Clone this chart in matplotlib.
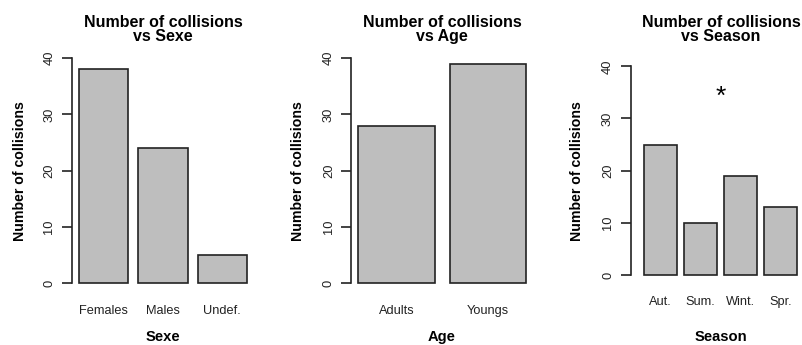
import matplotlib
matplotlib.use("Agg")
import matplotlib.pyplot as plt
import matplotlib.transforms as mtransforms

# Collision counts by grouping variable
sexe_labels = ["Females", "Males", "Undef."]
sexe_counts = [38, 24, 5]

age_labels = ["Adults", "Youngs"]
age_counts = [28, 39]

season_labels = ["Aut.", "Sum.", "Wint.", "Spr."]
season_counts = [25, 10, 19, 13]

# significance marker on the season panel
star_x, star_y = 2.5, 35

W, H = 803, 345
DPI = 100
plt.rcParams["font.family"] = ["Liberation Sans", "DejaVu Sans"]

fig = plt.figure(figsize=(W / DPI, H / DPI), dpi=DPI)
fig.patch.set_facecolor("white")

BAR_FILL = "#bebebe"
EDGE = "#222222"


def px_axes(left, right, top, bottom):
    return fig.add_axes([left / W, 1 - bottom / H, (right - left) / W, (bottom - top) / H])


def bar_centers(n):
    # R barplot layout: width 1, space 0.2
    return [0.2 + 0.5 + i * 1.2 for i in range(n)]


def draw_panel(ax, labels, counts, xlim, ylab_x, title_cx, name):
    xs = bar_centers(len(counts))
    ax.bar(xs, counts, width=1.0, color=BAR_FILL, edgecolor=EDGE, linewidth=1.2)
    ax.set_xlim(*xlim)
    ax.set_ylim(-1.6, 41.6)
    for s in ("top", "right", "bottom"):
        ax.spines[s].set_visible(False)
    ax.spines["left"].set_bounds(0, 40)
    ax.spines["left"].set_color(EDGE)
    ax.spines["left"].set_linewidth(1.2)
    ax.set_yticks([0, 10, 20, 30, 40])
    ax.set_yticklabels(["0", "10", "20", "30", "40"], rotation=90, va="center",
                       fontsize=9.3, color="#222222")
    ax.tick_params(axis="y", length=7, width=1.2, color=EDGE, pad=5)
    ax.set_xticks(xs)
    ax.set_xticklabels(labels, fontsize=9.2, color="#222222")
    ax.tick_params(axis="x", length=0, pad=9)
    ax.patch.set_alpha(0)

    fig.text(title_cx / W, 1 - 26.7 / H, "Number of collisions", ha="center",
             va="baseline", fontsize=11.5, fontweight="bold")
    fig.text(title_cx / W, 1 - 41 / H, "vs " + name, ha="center", va="baseline",
             fontsize=11.5, fontweight="bold")
    fig.text(title_cx / W, 1 - 337 / H, name, ha="center", va="center",
             fontsize=10.6, fontweight="bold")
    bb = ax.get_position()
    fig.text(ylab_x / W, bb.y0 + bb.height / 2, "Number of collisions", rotation=90,
             ha="center", va="center", fontsize=10.2, fontweight="bold")


ax1 = px_axes(72, 253.8, 49, 292.3)
draw_panel(ax1, sexe_labels, sexe_counts, (0.064, 3.736), 20, 163, "Sexe")

ax2 = px_axes(351.5, 533, 49, 292.3)
draw_panel(ax2, age_labels, age_counts, (0.112, 2.488), 298.5, 442, "Age")

ax3 = px_axes(630.7, 810.8, 58, 283.3)
draw_panel(ax3, season_labels, season_counts, (-0.2, 5.2), 577.5, 721, "Season")
star_tr = mtransforms.offset_copy(ax3.transData, fig=fig, x=0, y=-3.5, units="points")
ax3.text(star_x, star_y, "*", ha="center", va="center", fontsize=19, transform=star_tr)

fig.savefig("out.png", dpi=DPI)
